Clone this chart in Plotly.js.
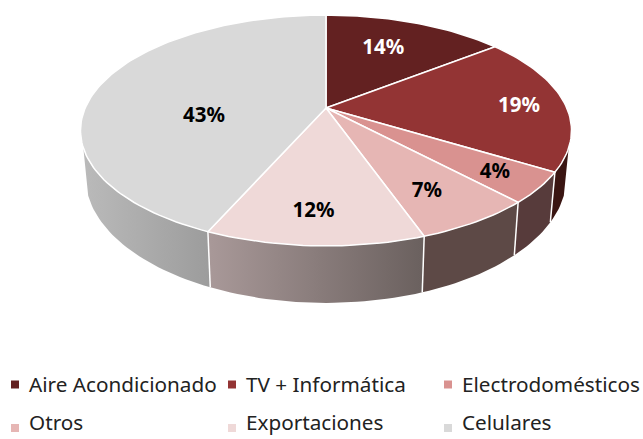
<!DOCTYPE html>
<html><head><meta charset="utf-8">
<script src="https://cdn.plot.ly/plotly-3.0.1.min.js"></script>
<style>html,body{margin:0;padding:0;background:#fff}#c{width:643px;height:439px}</style>
</head><body><div id="c"></div>
<script>
const categories = ["Aire Acondicionado","TV + Informática","Electrodomésticos","Otros","Exportaciones","Celulares"];
const shares = [14.4,19.3,4.3,6.6,12.0,43.4];
const percentLabels = ["14%","19%","4%","7%","12%","43%"];
const topColors = ["#632121","#933434","#d99290","#e6b6b4","#efd9d8","#d9d9d9"];
const labelColors = ["#ffffff","#ffffff","#000000","#000000","#000000","#000000"];
const wallFills = [
  {fillcolor:"#3a1512"},{fillcolor:"#3a1512"},{fillcolor:"#573b3b"},{fillcolor:"#5d4946"},
  {gradient:["#a99999","#6a605e"]},{gradient:["#bababa","#9c9c9c"]}
];
// label placement: rim shift (turns) and radius on the disc
const labelShift = [-0.007,0.004,0,0.005,0.003,-0.052];
const labelRadius = [0.67,0.806,0.813,0.743,0.78,0.504];
const labelDrop = 2;

// projection of the tilted disc; the wall is visible between these two turns
const G = {cx:326,cy:108,R:240.8,S:111,k:0.195,wx:0.98,wy:1.094,wo:33.9,wallFrom:0.3047,wallTo:0.6953};
function discPoint(turn,r){ r = r===undefined?1:r;
  const a=2*Math.PI*turn, X=r*Math.sin(a), Y=r*Math.cos(a), d=1+G.k*Y;
  return [G.cx+G.R*X/d, G.cy-G.S*Y/d]; }
function low(p){ return [G.cx+(p[0]-G.cx)*G.wx, p[1]*G.wy+G.wo]; }
function arc(t0,t1){ const n=Math.max(6,Math.ceil((t1-t0)*240)), o=[];
  for(let i=0;i<=n;i++) o.push(discPoint(t0+(t1-t0)*i/n)); return o; }

const total = shares.reduce((a,b)=>a+b,0);
const starts=[]; let run=0;
shares.forEach(v=>{starts.push(run/total); run+=v;});
const ends = starts.map((s,i)=>s+shares[i]/total);

const traces=[];
function base(pts,extra){ return Object.assign({type:"scatter",mode:"lines",
  x:pts.map(p=>p[0]),y:pts.map(p=>p[1]),hoverinfo:"skip",showlegend:false,
  line:{width:0}},extra); }

// walls, only where they face the viewer
categories.forEach((c,i)=>{
  const a=Math.max(starts[i],G.wallFrom), b=Math.min(ends[i],G.wallTo);
  if(b<=a) return;
  const t=arc(a,b);
  const pts=t.concat(t.slice().reverse().map(low));
  pts.push(t[0]);
  const w=wallFills[i], e={fill:"toself",name:c+" lateral"};
  if(w.gradient) e.fillgradient={type:"horizontal",colorscale:[[0,w.gradient[0]],[1,w.gradient[1]]]};
  else e.fillcolor=w.fillcolor;
  traces.push(base(pts,e));
});
// separators on the wall, at the visible slice boundaries
ends.forEach(t=>{
  if(t<G.wallFrom || t>G.wallTo) return;
  const p=discPoint(t);
  traces.push(base([p,low(p)],{line:{color:"#ffffff",width:1.5}}));
});
// top slices
categories.forEach((c,i)=>{
  const pts=[[G.cx,G.cy]].concat(arc(starts[i],ends[i]));
  pts.push([G.cx,G.cy]);
  traces.push(base(pts,{name:c,fill:"toself",fillcolor:topColors[i],line:{color:"#ffffff",width:1.5}}));
});
// percent labels
const lp=starts.map((s,i)=>discPoint((s+ends[i])/2+labelShift[i],labelRadius[i]));
traces.push({type:"scatter",mode:"text",x:lp.map(p=>p[0]),y:lp.map(p=>p[1]+labelDrop),text:percentLabels,
  textposition:"middle center",hoverinfo:"skip",showlegend:false,
  textfont:{family:"'Noto Sans',sans-serif",size:20.5,color:labelColors,weight:700}});
// legend, three columns by two rows
const legendX=[15,232,448], legendY=[384.5,428], legendTextY=[386.5,425], legendGap=14;
const lx=categories.map((c,i)=>legendX[i%3]), ly=categories.map((c,i)=>legendY[Math.floor(i/3)]);
const lty=categories.map((c,i)=>legendTextY[Math.floor(i/3)]);
traces.push({type:"scatter",mode:"markers",x:lx,y:ly,hoverinfo:"skip",showlegend:false,
  marker:{symbol:"square",size:8,color:topColors},cliponaxis:false});
traces.push({type:"scatter",mode:"text",x:lx.map(v=>v+legendGap),y:lty,text:categories,
  textposition:"middle right",hoverinfo:"skip",showlegend:false,
  textfont:{family:"'Noto Sans',sans-serif",size:20.7,color:"#222222"},cliponaxis:false});

Plotly.newPlot("c",traces,{
  width:643,height:439,margin:{l:0,r:0,t:0,b:0},paper_bgcolor:"#fff",plot_bgcolor:"#fff",
  showlegend:false,
  xaxis:{range:[0,643],visible:false,fixedrange:true},
  yaxis:{range:[439,0],visible:false,fixedrange:true}
},{staticPlot:true,displayModeBar:false});
</script></body></html>
